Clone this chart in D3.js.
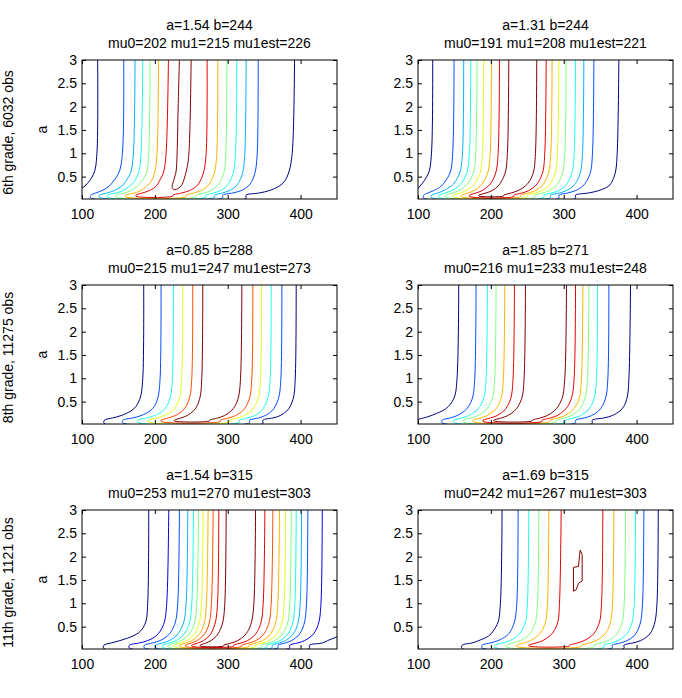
<!DOCTYPE html>
<html><head><meta charset="utf-8">
<script src="https://cdn.jsdelivr.net/npm/d3@7"></script>
<style>
body{margin:0;background:#fff;}
svg text{font-family:"Liberation Sans",Arial,Helvetica,sans-serif;fill:#000;}
</style>
</head><body>
<svg id="chart" width="682" height="698"></svg>
<script>
// ---------- data ----------
const titleLine1 = ["a=1.54 b=244","a=1.31 b=244","a=0.85 b=288","a=1.85 b=271","a=1.54 b=315","a=1.69 b=315"];
const titleLine2 = ["mu0=202 mu1=215 mu1est=226","mu0=191 mu1=208 mu1est=221","mu0=215 mu1=247 mu1est=273",
                    "mu0=216 mu1=233 mu1est=248","mu0=253 mu1=270 mu1est=303","mu0=242 mu1=267 mu1est=303"];
const rowLabels = ["6th grade, 6032 obs","8th grade, 11275 obs","11th grade, 1121 obs"];
const yAxisLabel = "a";
const xTicks = [100,200,300,400];
const yTicks = [0.5,1,1.5,2,2.5,3];
const xDomain = [100,450];
const yDomain = [0.02,3];
// "a" values at which each contour branch was read
const aLevels = [3,1,0.6,0.4,0.3,0.2,0.15,0.1];
// jet colormap, 11 steps
const jet = ["#000080","#0000e6","#004dff","#00b3ff","#1affe6","#80ff80","#e6ff1a","#ffb300","#ff4d00","#e60000","#800000"];

// panel 1
const p1Levels = [0,2,3,4,5,7,9];
const p1Bottom = [0.03,0.045,0.055,0.06,0.065,0.07,0.08];
const p1Left = [
 [121.5,120.5,117,110,104,95,90,85],
 [157.3,155.5,151,143,137.5,127.5,119,112],
 [172.8,170.5,167,160,155,144,135,124],
 [183.4,181,178,172,166,156,147,135],
 [193.4,191.6,189,182,176,167,158,147],
 [205,203,200,195,189,181,172,160],
 [218.6,215.4,212,206,202,192.5,183,174]];
const p1Right = [
 [391.7,388.5,384,378,371,357,343.6,325],
 [341.8,340.5,337.7,333,328.5,318.5,307,293],
 [325.3,323.5,320.8,316,311.6,302.4,293,282],
 [312.5,310.7,308,303,298.8,290,281,270],
 [298.8,297.4,295,290,285.5,277,268,256.6],
 [286.4,285,282,277,272.7,263.5,254,243],
 [271.7,270.4,267,262,257.5,247.5,237,224.6]];
const p1Loop = [[233.7,3],[232,2],[230.5,1],[229,0.6],[225.5,0.4],[223.7,0.27],[226,0.22],[230,0.23],[236,0.3],[240.6,0.47],[245,0.76],[246.6,0.97],[248.4,1.7],[249.8,3]];

// panel 2
const p2Levels = [0,2,3,4,5,6,7,9,10];
const p2Bottom = [0.03,0.04,0.05,0.055,0.06,0.065,0.07,0.075,0.085];
const p2Left = [
 [120.2,118.5,115,108,103,97,93,88],
 [149.5,147.6,144.4,137.5,132,121.5,113.7,107.8],
 [162.7,161,157.7,151.3,145.8,135,127.5,118.3],
 [172.4,170.5,167.3,161.4,156,145.8,137.6,128.4],
 [181,179.2,176.5,170.5,165,156,147.6,137.6],
 [190.2,188.4,185.6,180,175,166,158,149],
 [200.8,199,196,190.7,185.6,177,168.7,159.5],
 [211.8,210,207,201.7,196.6,188,179.7,170.5],
 [224.6,222.7,220,214.5,210,201.7,193.4,183.4]];
const p2Right = [
 [375.7,373.4,371,366.5,362,348,334.5,316],
 [341.4,339.5,336.8,331.3,326.3,316.2,305.6,293.3],
 [327.6,325.8,323,318,313,303.8,294,281.8],
 [316.2,314.3,311.6,306.6,302,293.3,284,272.7],
 [303.4,301.5,298.8,293.7,289,280.5,271.3,260.3],
 [293.3,291.4,288.7,283.7,279,270.4,261,249.8],
 [284,282.3,279.5,274.5,270,261,252,240.6],
 [275.9,274,271.3,265.8,261,252,243,231.5],
 [263,261.2,258.5,253,247.5,237.4,228,217.7]];

// panel 3
const p3Levels = [0,2,4,6,8,10];
const p3Bottom = [0.03,0.045,0.055,0.065,0.075,0.085];
const p3Left = [
 [184.7,183.4,180.2,174.2,167.3,153.6,142,130.7],
 [208.5,207.2,204.4,199.4,193.4,181,169.6,155.9],
 [225.5,224.1,221.4,216.3,210.8,199.4,188.9,176.5],
 [238.3,236.9,234.2,229.2,224.1,213,203,191.6],
 [252,250.7,247.9,242.9,237.9,227.8,218.6,208.5],
 [265.8,264.4,262.1,257.6,253,244.3,236,226.9]];
const p3Right = [
 [394,392.7,390.4,385.8,381.2,372,362,348.2],
 [374.3,373,370.2,365.2,360.6,351.4,342.3,329.9],
 [359.7,358.3,355.6,350.5,346,336.8,327.6,316.2],
 [346.4,345,342.3,337.2,332.2,323,313.9,302.4],
 [334.5,333.1,330.4,325.3,320.3,310.7,301.5,290],
 [319.4,317.6,314.8,309.8,304.7,295.6,286.4,275]];

// panel 4
const p4Levels = [0,2,4,5,7,9,10];
const p4Bottom = [0.03,0.045,0.055,0.06,0.07,0.075,0.085];
const p4Left = [
 [155.9,153.6,150,142,133,118,108,98],
 [179.7,177.9,175.1,169.6,164,153.6,144.4,133],
 [195.3,193.4,190.7,185.2,179.7,169.6,160.5,149],
 [207.2,205.3,202.6,197,192,182.4,173.3,162.7],
 [219.1,217.2,214.5,209.5,204.4,194.8,186,175.6],
 [232.4,230.5,227.8,222.7,217.7,208.5,199.8,189.3],
 [247.5,245.6,242.9,237.4,232.4,223,214.5,204]];
const p4Right = [
 [391.7,389.5,387.2,382.6,377.1,366.6,355.1,339],
 [362,360.6,357.9,352.8,347.8,338.2,328.5,316.2],
 [346.4,345,342.3,337.2,332.2,323,313.9,302.4],
 [334.5,332.7,329.9,324.4,319.4,310.2,301,289.6],
 [326.3,324.4,321.7,316.2,310.7,301.5,292.4,280.9],
 [316.2,314.3,311.1,305.6,300.1,291,281.8,270.4],
 [303.8,301.5,298.3,292.4,286.9,277.2,268,256.6]];

// panel 5
const p5Levels = [0,1,2,3,4,5,6,7,8,9,10];
const p5Bottom = [0.03,0.04,0.045,0.05,0.055,0.06,0.065,0.07,0.075,0.08,0.085];
const p5Left = [
 [191.6,190.2,187.5,180,170,152,140,130],
 [219.1,216.3,213.1,207.2,201.7,190.2,178.8,165],
 [233.7,231.4,228.2,222.7,217.2,207.2,197,185.6],
 [245.2,242.9,239.7,234.2,229.2,220,210.8,200.8],
 [253,250.7,247.9,242.9,237.9,229.2,220.5,210.8],
 [259.8,257.6,254.8,249.8,245.2,236.5,228.2,218.6],
 [266.3,264,261.2,256.6,252,243.8,235.6,226.4],
 [273.1,270.8,268.1,263.5,258.9,251.1,243.4,234.2],
 [280,277.7,275,270.4,265.8,258,250.7,242],
 [287.8,286,283.2,278.6,274.5,266.7,259.4,250.7],
 [297.9,296,293.3,288.7,284.6,277.2,270.4,262.1]];
const p5Right = [
 [472,470,466,460,452,437,430,412],
 [429.8,428,425.2,420.1,415.1,405.5,396.3,384.9],
 [410,408.2,405.5,400.9,396.3,387.6,379.4,368.9],
 [401.4,399.5,396.8,392.2,387.6,379.4,371.1,361],
 [394,392.2,389.5,384.9,380.3,372,363.8,353.7],
 [387.2,385.3,382.6,377.5,373,364.7,356.5,346.4],
 [379.4,377.5,374.8,369.8,365.2,356.5,348.2,338.2],
 [371.1,368.8,366.1,361,356.5,347.8,339.1,329],
 [362,359.7,356.9,351.9,347.3,338.6,329.9,319.4],
 [351,348.7,345.9,340.9,335.9,327.2,318.5,308],
 [338.2,335.9,332.7,327.6,322.6,313.9,305.2,294.7]];

// panel 6
const p6Levels = [0,2,4,5,7,9];
const p6Bottom = [0.03,0.045,0.055,0.065,0.075,0.085];
const p6Left = [
 [215.4,213.1,209.9,203,197,183.4,174.2,160.5],
 [237.4,235.6,232.4,226.9,221.4,209.9,199.8,187.9],
 [252,250.2,247.5,242,236.5,226,216.3,205.3],
 [265.8,264,261.2,255.7,250.7,240.6,231.4,220.9],
 [279.5,277.7,275,269.5,264.4,254.3,245.6,235],
 [296.5,294.2,291.9,286.4,280.9,271.3,262.1,252]];
const p6Right = [
 [429.8,428,425.2,420.6,415.6,405.5,395,382.6],
 [410,408.2,405.5,400.9,396.3,387.1,378,366.5],
 [398.6,396.8,394,389,384,374.8,365.6,355.1],
 [384.9,383,380.3,375.3,370.2,361,351.9,341.4],
 [368.8,367,364.2,359.2,354.2,344.6,335.4,324.4],
 [353.7,351.9,349.2,343.6,338.2,328,318.9,308]];
const p6Loop = [[322.6,2.14],[325.3,2.05],[325.3,1.48],[320.3,1.43],[317,1.29],[313.4,1.26],[313.4,1.77],[320.3,1.79],[321.7,2.02],[322.6,2.14]];
const loopLevel = 10;

// ---------- layout ----------
const colX = [82,418], rowY = [60,285,510], W = 255, H = 139;

const panels = [
 {levels:p1Levels,bottom:p1Bottom,left:p1Left,right:p1Right,loop:p1Loop},
 {levels:p2Levels,bottom:p2Bottom,left:p2Left,right:p2Right,loop:null},
 {levels:p3Levels,bottom:p3Bottom,left:p3Left,right:p3Right,loop:null},
 {levels:p4Levels,bottom:p4Bottom,left:p4Left,right:p4Right,loop:null},
 {levels:p5Levels,bottom:p5Bottom,left:p5Left,right:p5Right,loop:null},
 {levels:p6Levels,bottom:p6Bottom,left:p6Left,right:p6Right,loop:p6Loop}
];

const svg = d3.select("#chart");
const x = d3.scaleLinear().domain(xDomain).range([0,W]);
const y = d3.scaleLinear().domain(yDomain).range([H,0]);
const line = d3.line().x(d=>x(d[0])).y(d=>y(d[1])).curve(d3.curveCatmullRom.alpha(0.5));
const lineLin = d3.line().x(d=>x(d[0])).y(d=>y(d[1]));

svg.append("defs").append("clipPath").attr("id","plotclip")
  .append("rect").attr("x",0).attr("y",0).attr("width",W).attr("height",H);

panels.forEach((p,i)=>{
  const r = Math.floor(i/2), c = i%2;
  const g = svg.append("g").attr("transform",`translate(${colX[c]},${rowY[r]})`);

  const plot = g.append("g").attr("clip-path","url(#plotclip)");
  p.levels.forEach((lv,k)=>{
    const L = p.left[k], R = p.right[k];
    const pts = L.map((xv,j)=>[xv,aLevels[j]]);
    pts.push([L[L.length-1],p.bottom[k]]);
    pts.push([R[R.length-1],p.bottom[k]]);
    for(let j=R.length-1;j>=0;j--) pts.push([R[j],aLevels[j]]);
    plot.append("path").attr("d",line(pts)).attr("fill","none")
      .attr("stroke",jet[lv]).attr("stroke-width",1);
  });
  if(p.loop){
    plot.append("path").attr("d",(i===0?line:lineLin)(p.loop)).attr("fill","none")
      .attr("stroke",jet[loopLevel]).attr("stroke-width",1);
  }

  // axes
  const fmtY = d3.format("~g");
  const ax = g.append("g").attr("transform",`translate(0,${H})`)
    .call(d3.axisBottom(x).tickValues(xTicks).tickFormat(d3.format("d")).tickSize(-4).tickSizeOuter(0).tickPadding(10));
  const ay = g.append("g")
    .call(d3.axisLeft(y).tickValues(yTicks).tickFormat(fmtY).tickSize(-4).tickSizeOuter(0).tickPadding(5));
  const at = g.append("g")
    .call(d3.axisTop(x).tickValues(xTicks).tickFormat("").tickSize(-4).tickSizeOuter(0));
  const ar = g.append("g").attr("transform",`translate(${W},0)`)
    .call(d3.axisRight(y).tickValues(yTicks).tickFormat("").tickSize(-4).tickSizeOuter(0));
  [ax,ay,at,ar].forEach(a=>{
    a.select(".domain").remove();
    a.attr("font-family",null).attr("font-size",null);
    a.selectAll("line").attr("stroke","#000");
    a.selectAll("text").style("font-size","14px").attr("fill","#000");
  });
  g.append("rect").attr("x",0).attr("y",0).attr("width",W).attr("height",H)
    .attr("fill","none").attr("stroke","#000").attr("stroke-width",1);

  // titles
  g.append("text").attr("x",W/2).attr("y",-30).attr("text-anchor","middle")
    .style("font-size","14px").text(titleLine1[i]);
  g.append("text").attr("x",W/2).attr("y",-12).attr("text-anchor","middle")
    .style("font-size","14px").text(titleLine2[i]);

  if(c===0){
    g.append("text").attr("transform",`translate(-35,${H/2}) rotate(-90)`)
      .attr("text-anchor","middle").style("font-size","14px").text(yAxisLabel);
    g.append("text").attr("transform",`translate(-69,${H/2+3}) rotate(-90)`)
      .attr("text-anchor","middle").style("font-size","14px").text(rowLabels[r]);
  }
});
</script>
</body></html>
